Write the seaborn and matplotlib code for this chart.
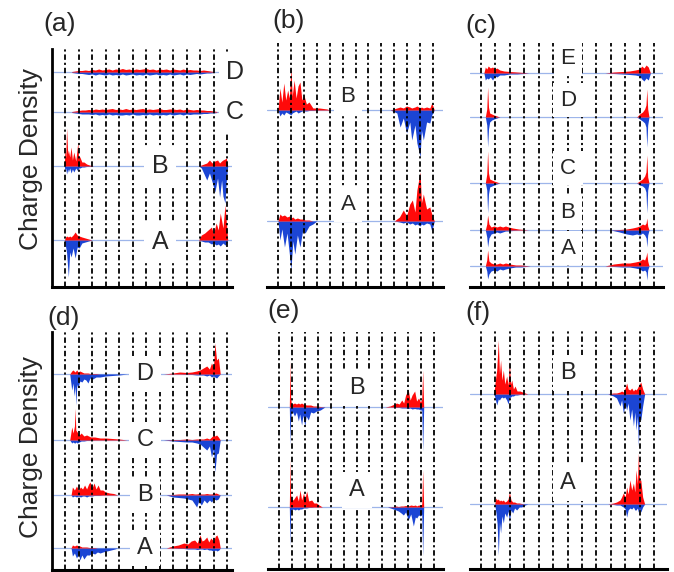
import matplotlib
matplotlib.use("Agg")
import matplotlib.pyplot as plt
import seaborn as sns

sns.set_style("white")
plt.rcParams["font.family"] = ["Liberation Sans", "DejaVu Sans"]

RED = "#ff0a0a"
BLUE = "#1b45d4"
BASE = "#9db5ea"

# ---------------- data (x in grid-line units, amplitudes) ----------------
# panel (a)
a_offsets = [47, 121, 175, 215]          # A, B, C, D
a_labels = ["A", "B", "C", "D"]
aD_x = [0.5, 0.75, 1.0, 1.25, 1.5, 1.75, 2.0, 2.25, 2.5, 2.75, 3.0, 3.25, 3.5, 3.75, 4.0, 4.25,
        4.5, 4.75, 5.0, 5.25, 5.5, 5.75, 6.0, 6.25, 6.5, 6.75, 7.0, 7.25, 7.5, 7.75, 8.0, 8.25,
        8.5, 8.75, 9.0, 9.25, 9.5, 9.75, 10.0, 10.25, 10.5, 10.75, 11.0]
aD_up = [0.5, 1, 1.5, 1.5, 2, 1.5, 2.5, 2, 3, 2, 2.5, 3, 2, 3, 2.5, 3.5, 2.5, 3, 2, 3, 2.5, 3,
         3.5, 2.5, 3, 2, 3, 2.5, 3, 2, 3, 2.5, 2, 3, 2, 2.5, 2, 2, 1.5, 2, 1.5, 1, 0.5]
aD_dn = [0.5, 1, 1.5, 1.5, 2, 2.5, 2, 3, 2, 2.5, 3, 2, 3, 2.5, 3, 2, 3, 2.5, 2, 3, 2.5, 3, 2,
         3, 2.5, 2, 3, 2.5, 3, 2, 3, 2.5, 2, 3, 2, 2.5, 2, 1.5, 2, 1.5, 1, 1, 0.5]
aC_x = [0.5, 0.75, 1.0, 1.25, 1.5, 1.75, 2.0, 2.25, 2.5, 2.75, 3.0, 3.25, 3.5, 3.75, 4.0, 4.25,
        4.5, 4.75, 5.0, 5.25, 5.5, 5.75, 6.0, 6.25, 6.5, 6.75, 7.0, 7.25, 7.5, 7.75, 8.0, 8.25,
        8.5, 8.75, 9.0, 9.25, 9.5, 9.75, 10.0, 10.25, 10.5, 10.75, 11.0, 11.25]
aC_up = [0.5, 1, 1.5, 2, 2, 2.5, 2, 3, 2.5, 3, 2.5, 3, 3.5, 2.5, 3, 2.5, 3.5, 2.5, 3, 2.5, 3,
         3.5, 2.5, 3, 2.5, 3, 3.5, 2.5, 2.5, 3, 3, 2.5, 3, 2, 3, 2.5, 2, 2.5, 2, 2, 1.5, 1.5, 1, 0.5]
aC_dn = [0.5, 1, 1.5, 2, 2, 2, 2.5, 2, 3, 2.5, 3, 2, 3, 2.5, 3, 3, 2.5, 3, 2, 3, 3, 2.5, 3, 2,
         3, 2.5, 3, 2.5, 3, 2, 3, 2.5, 2, 3, 2, 2.5, 2, 2, 2, 1.5, 1.5, 1, 1, 0.5]
aB_lx = [-0.05, 0.0, 0.05, 0.12, 0.2, 0.25, 0.35, 0.45, 0.55, 0.65, 0.8, 0.95, 1.0, 1.1, 1.25,
         1.4, 1.6, 1.8, 2.1]
aB_lup = [0, 20, 8, 38, 12, 16, 9, 19, 6, 14, 5, 24, 10, 9, 4, 4, 2, 1, 0]
aB_ldn = [0, 5, 2, 8, 3, 6, 2, 7, 3, 6, 2, 5, 2, 2, 1, 1, 0.5, 0.5, 0]
aB_rx = [9.9, 10.1, 10.3, 10.5, 10.7, 10.9, 11.1, 11.3, 11.45, 11.6, 11.7, 11.85, 11.95, 12.05]
aB_rup = [0, 1, 2, 3, 6, 3, 5, 6, 3, 5, 6, 7, 8, 0]
aB_rdn = [0, 2, 8, 14, 7, 16, 26, 12, 31, 14, 30, 37, 15, 0]
aA_lx = [-0.05, 0.05, 0.12, 0.25, 0.35, 0.45, 0.6, 0.75, 0.9, 1.05, 1.25, 1.5, 1.75, 2.0]
aA_lup = [0, 3, 4, 3, 4, 3, 5, 8, 5, 4, 3, 2, 1, 0]
aA_ldn = [0, 7, 13, 37, 12, 17, 8, 18, 7, 8, 3, 2, 1, 0]
aA_rx = [9.9, 10.1, 10.35, 10.6, 10.85, 11.0, 11.2, 11.35, 11.5, 11.7, 11.85, 11.95, 12.05]
aA_rup = [0, 5, 7, 10, 13, 6, 17, 10, 27, 12, 35, 18, 0]
aA_rdn = [0, 1, 2, 2, 4, 3, 5, 4, 6, 3, 5, 4, 0]

# panel (b)
b_offsets = [66, 177]                    # A, B
b_labels = ["A", "B"]
bB_lx = [0.0, 0.15, 0.3, 0.45, 0.6, 0.75, 0.88, 1.0, 1.1, 1.25, 1.4, 1.55, 1.7, 1.85, 2.0, 2.2,
         2.4, 2.7, 3.2, 3.8, 4.0]
bB_lup = [0, 22, 8, 27, 10, 20, 12, 43, 14, 30, 12, 24, 28, 10, 15, 6, 8, 2, 2, 1, 0]
bB_ldn = [0, 6, 3, 5, 2, 3, 4, 5, 3, 2, 1, 3, 2, 1, 1, 1, 0.5, 0.5, 0, 0, 0]
bB_rx = [8.7, 9.2, 9.45, 9.7, 9.95, 10.2, 10.35, 10.6, 10.75, 11.0, 11.1, 11.25, 11.5, 11.75,
         11.9, 12.1]
bB_rup = [0, 2, 3, 2, 4, 3, 2, 3, 4, 2, 3, 2, 3, 2, 7, 0]
bB_rdn = [0, 3, 17, 8, 23, 12, 30, 15, 33, 47, 20, 30, 12, 13, 5, 0]
bA_lx = [0.0, 0.15, 0.3, 0.5, 0.7, 0.88, 1.0, 1.15, 1.3, 1.5, 1.7, 1.9, 2.1, 2.4, 2.7, 3.0]
bA_lup = [0, 7, 5, 6, 4, 5, 3, 4, 2, 3, 2, 2, 1, 1, 0, 0]
bA_ldn = [0, 19, 8, 26, 12, 33, 49, 20, 33, 14, 26, 10, 12, 5, 3, 0]
bA_rx = [9.0, 9.4, 9.7, 9.95, 10.2, 10.4, 10.6, 10.75, 11.0, 11.1, 11.25, 11.5, 11.75, 11.9, 12.1]
bA_rup = [0, 4, 11, 5, 17, 21, 9, 31, 49, 18, 27, 12, 14, 7, 0]
bA_rdn = [0, 1, 2, 1, 3, 2, 4, 3, 5, 3, 4, 2, 3, 10, 0]

# panel (c)
c_offsets = [21, 57, 104, 170, 214]      # A, B, C, D, E
c_labels = ["A", "B", "C", "D", "E"]
cE_lx = [0.2, 0.3, 0.4, 0.5, 0.65, 0.8, 0.95, 1.1, 1.3, 1.6, 2.0, 2.5, 3.0, 3.3]
cE_lup = [0, 6, 4, 7, 5, 6, 4, 5, 3, 2, 1.5, 1, 0.5, 0]
cE_ldn = [0, 7, 5, 6, 4, 7, 3, 4, 2, 2, 1, 1, 0.5, 0]
cE_rx = [8.6, 9.2, 9.8, 10.3, 10.7, 11.0, 11.15, 11.3, 11.45, 11.6, 11.75]
cE_rup = [0, 1, 1.5, 2, 3, 4, 7, 5, 8, 6, 0]
cE_rdn = [0, 0.5, 1, 1.5, 2, 3, 6, 8, 5, 7, 0]
cD_lx = [0.3, 0.4, 0.46, 0.52, 0.6, 0.75, 0.9, 1.1, 1.3]
cD_lup = [0, 8, 30, 10, 4, 3, 2, 1, 0]
cD_ldn = [0, 8, 30, 12, 5, 3, 2, 1, 0]
cD_rx = [10.8, 11.0, 11.2, 11.35, 11.44, 11.5, 11.56, 11.65]
cD_rup = [0, 3, 5, 8, 12, 28, 8, 0]
cD_rdn = [0, 2, 4, 6, 10, 30, 8, 0]
cC_lx = [0.3, 0.4, 0.46, 0.52, 0.6, 0.75, 0.9, 1.1, 1.3]
cC_lup = [0, 9, 32, 10, 4, 3, 2, 1, 0]
cC_ldn = [0, 7, 30, 11, 4, 3, 2, 1, 0]
cC_rx = [10.8, 11.0, 11.2, 11.35, 11.44, 11.5, 11.56, 11.65]
cC_rup = [0, 2, 4, 7, 11, 28, 6, 0]
cC_rdn = [0, 2, 3, 5, 9, 30, 7, 0]
cB_lx = [0.3, 0.4, 0.46, 0.55, 0.7, 0.9, 1.1, 1.3, 1.5, 1.7, 1.9, 2.2, 2.6, 3.0, 3.3]
cB_lup = [0, 6, 15, 6, 3, 4, 3, 4, 3, 4, 3, 2, 1, 0.5, 0]
cB_ldn = [0, 7, 17, 8, 4, 3, 2, 3, 2, 1, 1, 0.5, 0, 0, 0]
cB_rx = [9.0, 9.6, 10.1, 10.5, 10.8, 11.0, 11.2, 11.35, 11.45, 11.5, 11.56, 11.65]
cB_rup = [0, 0.5, 1, 2, 3, 4, 6, 5, 7, 12, 4, 0]
cB_rdn = [0, 2, 4, 5, 4, 5, 3, 5, 8, 17, 5, 0]
cA_lx = [0.3, 0.4, 0.46, 0.55, 0.7, 0.9, 1.1, 1.3, 1.5, 1.7, 2.0, 2.4, 2.8, 3.1, 3.4]
cA_lup = [0, 6, 16, 5, 3, 2, 2, 3, 2, 3, 2, 1, 1, 0.5, 0]
cA_ldn = [0, 5, 13, 8, 5, 4, 5, 3, 4, 3, 2, 1, 1, 0.5, 0]
cA_rx = [8.6, 9.2, 9.8, 10.3, 10.7, 11.0, 11.2, 11.35, 11.45, 11.5, 11.56, 11.65]
cA_rup = [0, 2, 3, 3, 4, 5, 7, 6, 10, 14, 5, 0]
cA_rdn = [0, 0.5, 1, 1, 2, 3, 5, 4, 6, 14, 4, 0]

# panel (d)
d_offsets = [22, 75, 130, 196]           # A, B, C, D
d_labels = ["A", "B", "C", "D"]
dD_lx = [0.35, 0.5, 0.6, 0.67, 0.75, 0.8, 0.88, 0.95, 1.1, 1.25, 1.4, 1.55, 1.7, 1.85, 2.05,
         2.3, 2.6, 3.0, 3.5, 4.0, 4.6]
dD_lup = [0, 3, 4, 3, 2, 3, 4, 2, 3, 2, 1, 1, 1, 0.5, 0.5, 0.5, 0, 0, 0, 0, 0]
dD_ldn = [0, 16, 9, 22, 12, 31, 10, 14, 7, 8, 5, 6, 9, 4, 5, 3, 3, 2, 1.5, 1, 0]
dD_rx = [7.3, 8.0, 8.5, 9.0, 9.4, 9.75, 10.0, 10.25, 10.5, 10.7, 10.85, 11.0, 11.1, 11.23,
         11.36, 11.5]
dD_rup = [0, 1, 2, 1.5, 2, 3, 4, 6, 8, 5, 11, 7, 31, 14, 16, 0]
dD_rdn = [0, 0, 0, 0.5, 0.5, 1, 1, 1, 2, 1, 3, 2, 3, 4, 2, 0]
dC_lx = [0.35, 0.5, 0.6, 0.7, 0.75, 0.8, 0.9, 1.05, 1.2, 1.4, 1.6, 1.9, 2.2, 2.6, 3.0, 3.5,
         4.0, 4.6]
dC_lup = [0, 13, 7, 14, 32, 10, 8, 5, 7, 4, 5, 3, 3, 2, 2, 1.5, 1, 0]
dC_ldn = [0, 3, 2, 3, 3, 2, 3, 2, 1, 1, 0.5, 0.5, 0, 0, 0, 0, 0, 0]
dC_rx = [7.3, 8.0, 8.5, 9.0, 9.4, 9.75, 10.0, 10.25, 10.5, 10.7, 10.85, 11.0, 11.1, 11.23,
         11.36, 11.5]
dC_rup = [0, 0.5, 0.5, 1, 0.5, 1, 1, 1, 2, 1, 3, 5, 4, 5, 3, 0]
dC_rdn = [0, 1, 1.5, 2, 2, 3, 4, 7, 10, 6, 17, 9, 32, 14, 13, 0]
dB_lx = [0.45, 0.55, 0.7, 0.85, 1.0, 1.15, 1.3, 1.45, 1.6, 1.75, 1.85, 2.0, 2.15, 2.3, 2.45,
         2.6, 2.8, 3.0, 3.3, 3.6, 3.9]
dB_lup = [0, 8, 5, 9, 5, 8, 6, 10, 6, 11, 13, 7, 12, 6, 10, 5, 5, 3, 2, 1.5, 0]
dB_ldn = [0, 2, 1, 2, 1, 2, 1, 1, 2, 1, 1, 1, 0.5, 0.5, 0.5, 0.5, 0, 0, 0, 0, 0]
dB_rx = [7.5, 8.0, 8.4, 8.8, 9.1, 9.4, 9.6, 9.75, 9.9, 10.1, 10.3, 10.5, 10.7, 10.85, 11.0,
         11.2, 11.35, 11.5]
dB_rup = [0, 0.5, 1, 1, 1, 1.5, 1, 1, 1.5, 1, 1, 1.5, 1, 1, 1.5, 2, 1, 0]
dB_rdn = [0, 2, 2.5, 3, 4, 5, 9, 12, 6, 10, 5, 8, 5, 7, 4, 5, 4, 0]
dA_lx = [0.45, 0.55, 0.7, 0.85, 1.0, 1.1, 1.25, 1.4, 1.6, 1.8, 2.0, 2.2, 2.4, 2.6, 2.8, 3.1,
         3.4, 3.7, 3.9]
dA_lup = [0, 3, 2, 3, 2, 2, 1, 1, 1, 0.5, 0.5, 0.5, 0, 0, 0, 0, 0, 0, 0]
dA_ldn = [0, 8, 5, 10, 6, 12, 7, 11, 7, 7, 5, 6, 4, 5, 4, 3, 2, 1, 0]
dA_rx = [7.5, 8.0, 8.4, 8.8, 9.1, 9.35, 9.6, 9.8, 10.0, 10.15, 10.3, 10.5, 10.65, 10.8, 11.0,
         11.15, 11.25, 11.4, 11.5]
dA_rup = [0, 2, 3, 5, 4, 7, 8, 5, 13, 7, 8, 11, 6, 10, 7, 12, 13, 8, 0]
dA_rdn = [0, 0, 0.5, 0.5, 1, 1, 1, 1.5, 1, 1, 1.5, 1, 2, 2, 3, 2, 3, 2, 0]

# panel (e)
e_offsets = [62, 162]                    # A, B
e_labels = ["A", "B"]
eB_lx = [0.8, 0.85, 0.9, 0.95, 1.05, 1.2, 1.35, 1.5, 1.6, 1.75, 1.85, 2.0, 2.1, 2.27, 2.45,
         2.66, 2.9, 3.2, 3.55]
eB_lup = [0, 46, 10, 4, 3, 4, 3, 4, 3, 4, 3, 3, 2, 2, 2, 1, 1, 0.5, 0]
eB_ldn = [0, 38, 12, 6, 5, 9, 5, 14, 7, 18, 8, 19, 9, 13, 5, 6, 4, 3, 0]
eB_rx = [8.2, 8.6, 9.1, 9.3, 9.5, 9.65, 9.8, 10.0, 10.15, 10.3, 10.5, 10.65, 10.8, 10.95,
         11.05, 11.12, 11.2]
eB_rup = [0, 1, 4, 3, 7, 4, 12, 17, 7, 12, 16, 6, 9, 5, 8, 37, 0]
eB_rdn = [0, 0, 0.5, 0.5, 1, 1, 1, 1.5, 1, 2, 1.5, 2, 2, 3, 3, 44, 0]
eA_lx = [0.8, 0.85, 0.9, 0.95, 1.1, 1.25, 1.37, 1.5, 1.63, 1.75, 1.9, 2.0, 2.14, 2.3, 2.53,
         2.7, 2.9, 3.1, 3.35]
eA_lup = [0, 48, 12, 8, 7, 10, 12, 6, 17, 7, 14, 8, 16, 6, 7, 4, 4, 2, 0]
eA_ldn = [0, 39, 8, 3, 2, 3, 2, 3, 2, 2, 1, 1, 1, 0.5, 0.5, 0, 0, 0, 0]
eA_rx = [8.4, 8.85, 9.05, 9.24, 9.45, 9.63, 9.8, 10.0, 10.2, 10.4, 10.55, 10.66, 10.8, 10.95,
         11.05, 11.12, 11.2]
eA_rup = [0, 0.5, 1, 0.5, 1, 1, 1.5, 1, 2, 1.5, 2, 1, 2, 1.5, 3, 37, 0]
eA_rdn = [0, 2, 3, 4, 6, 8, 5, 13, 7, 19, 10, 11, 8, 9, 7, 49, 0]

# panel (f)
f_offsets = [65, 175]                    # A, B
f_labels = ["A", "B"]
fB_lx = [0.9, 0.97, 1.09, 1.2, 1.28, 1.36, 1.45, 1.55, 1.65, 1.78, 1.88, 1.97, 2.05, 2.13,
         2.25, 2.36, 2.5, 2.7, 3.05, 3.25]
fB_lup = [0, 11, 24, 54, 20, 34, 14, 24, 10, 18, 9, 33, 10, 14, 5, 8, 3, 3, 1, 0]
fB_ldn = [0, 4, 11, 5, 6, 4, 3, 4, 3, 6, 10, 4, 3, 2, 2, 1, 1, 0.5, 0, 0]
fB_rx = [8.8, 9.18, 9.4, 9.64, 9.75, 9.87, 10.0, 10.1, 10.2, 10.33, 10.45, 10.57, 10.67,
         10.75, 10.85, 10.91, 11.0, 11.08, 11.21, 11.35]
fB_rup = [0, 1, 1, 2, 3, 2, 6, 11, 5, 4, 6, 3, 5, 4, 6, 8, 10, 12, 5, 0]
fB_rdn = [0, 2, 4, 12, 6, 19, 10, 16, 9, 26, 15, 32, 18, 36, 22, 52, 24, 26, 12, 0]
fA_lx = [0.95, 1.04, 1.12, 1.2, 1.28, 1.36, 1.45, 1.55, 1.65, 1.78, 1.88, 1.97, 2.08, 2.2,
         2.33, 2.47, 2.65, 2.82, 3.05, 3.25]
fA_lup = [0, 6, 4, 5, 3, 4, 3, 4, 2, 3, 5, 12, 4, 2, 2, 1, 1, 0.5, 0, 0]
fA_ldn = [0, 9, 20, 51, 18, 29, 12, 19, 9, 13, 7, 18, 6, 9, 4, 6, 3, 3, 1, 0]
fA_rx = [8.8, 9.18, 9.4, 9.64, 9.75, 9.87, 10.0, 10.1, 10.2, 10.33, 10.45, 10.57, 10.67,
         10.75, 10.85, 10.91, 11.0, 11.08, 11.21, 11.35]
fA_rup = [0, 1, 2, 4, 7, 11, 7, 17, 10, 24, 14, 21, 12, 34, 20, 51, 24, 24, 7, 0]
fA_rdn = [0, 0.5, 1, 1, 2, 3, 5, 13, 6, 4, 5, 3, 6, 6, 4, 8, 5, 8, 3, 0]

panel_titles = ["(a)", "(b)", "(c)", "(d)", "(e)", "(f)"]
grid_lines = list(range(13))
ylabel_text = "Charge Density"

# ---------------- layout ----------------
W, H = 674, 572
fig = plt.figure(figsize=(W / 100, H / 100), dpi=100)


def fx(px):
    return px / W


def fy(py):
    return 1 - py / H


def make_axes(L, T, R, B, x0, dx, left_spine):
    ax = fig.add_axes([L / W, 1 - B / H, (R - L) / W, (B - T) / H])
    ax.set_xlim((L - x0) / dx, (R - x0) / dx)
    ax.set_ylim(0, B - T)
    ax.set_xticks(grid_lines)
    ax.set_yticks([])
    ax.tick_params(length=0, labelbottom=False, labelleft=False)
    ax.grid(axis="x", color="black", linestyle=(0, (3, 1.6, 1.2, 1.6)), linewidth=1.3)
    ax.grid(axis="y", visible=False)
    ax.set_axisbelow(False)
    for s in ["top", "right"]:
        ax.spines[s].set_visible(False)
    ax.spines["left"].set_visible(left_spine)
    ax.spines["left"].set_linewidth(2.0)
    ax.spines["bottom"].set_linewidth(2.2)
    ax.spines["left"].set_color("black")
    ax.spines["bottom"].set_color("black")
    return ax


def draw(ax, off, x, up, dn):
    ax.fill_between(x, off, [off + v for v in up], color=RED, linewidth=0, zorder=1.2)
    ax.fill_between(x, off, [off - v for v in dn], color=BLUE, linewidth=0, zorder=1.1)


def baseline(ax, off):
    ax.axhline(off, color=BASE, linewidth=0.9, zorder=1.0)


def letter(txt, xp, yp, size):
    fig.text(fx(xp), fy(yp), txt, ha="center", va="center", fontsize=size, zorder=5,
             bbox=dict(facecolor="white", edgecolor="none", boxstyle="square,pad=0.3"))


# (a)
ax = make_axes(52, 49, 232, 287, 65, 13.5, True)
for off in a_offsets:
    baseline(ax, off)
draw(ax, a_offsets[3], aD_x, aD_up, aD_dn)
draw(ax, a_offsets[2], aC_x, aC_up, aC_dn)
draw(ax, a_offsets[1], aB_lx, aB_lup, aB_ldn)
draw(ax, a_offsets[1], aB_rx, aB_rup, aB_rdn)
draw(ax, a_offsets[0], aA_lx, aA_lup, aA_ldn)
draw(ax, a_offsets[0], aA_rx, aA_rup, aA_rdn)
letter(a_labels[3], 235, 72, 18)
letter(a_labels[2], 235, 112, 18)
letter(a_labels[1], 160, 166, 18)
letter(a_labels[0], 160, 242, 18)

# (b)
ax = make_axes(267, 43, 443, 287, 278, 12.92, False)
for off in b_offsets:
    baseline(ax, off)
draw(ax, b_offsets[1], bB_lx, bB_lup, bB_ldn)
draw(ax, b_offsets[1], bB_rx, bB_rup, bB_rdn)
draw(ax, b_offsets[0], bA_lx, bA_lup, bA_ldn)
draw(ax, b_offsets[0], bA_rx, bA_rup, bA_rdn)
letter(b_labels[1], 348, 97, 16)
letter(b_labels[0], 348, 205, 16)

# (c)
ax = make_axes(470, 43, 663, 287, 481, 14.42, False)
for off in c_offsets:
    baseline(ax, off)
draw(ax, c_offsets[4], cE_lx, cE_lup, cE_ldn)
draw(ax, c_offsets[4], cE_rx, cE_rup, cE_rdn)
draw(ax, c_offsets[3], cD_lx, cD_lup, cD_ldn)
draw(ax, c_offsets[3], cD_rx, cD_rup, cD_rdn)
draw(ax, c_offsets[2], cC_lx, cC_lup, cC_ldn)
draw(ax, c_offsets[2], cC_rx, cC_rup, cC_rdn)
draw(ax, c_offsets[1], cB_lx, cB_lup, cB_ldn)
draw(ax, c_offsets[1], cB_rx, cB_rup, cB_rdn)
draw(ax, c_offsets[0], cA_lx, cA_lup, cA_ldn)
draw(ax, c_offsets[0], cA_rx, cA_rup, cA_rdn)
for lab, yp in zip(c_labels, [248, 213, 168, 100, 58]):
    letter(lab, 568, yp, 16)

# (d)
ax = make_axes(52, 332, 232, 570, 65, 13.5, True)
for off in d_offsets:
    baseline(ax, off)
draw(ax, d_offsets[3], dD_lx, dD_lup, dD_ldn)
draw(ax, d_offsets[3], dD_rx, dD_rup, dD_rdn)
draw(ax, d_offsets[2], dC_lx, dC_lup, dC_ldn)
draw(ax, d_offsets[2], dC_rx, dC_rup, dC_rdn)
draw(ax, d_offsets[1], dB_lx, dB_lup, dB_ldn)
draw(ax, d_offsets[1], dB_rx, dB_rup, dB_rdn)
draw(ax, d_offsets[0], dA_lx, dA_lup, dA_ldn)
draw(ax, d_offsets[0], dA_rx, dA_rup, dA_rdn)
for lab, yp in zip(d_labels, [548, 495, 440, 374]):
    letter(lab, 145, yp, 17)

# (e)
ax = make_axes(268, 332, 443, 569, 279, 12.92, False)
for off in e_offsets:
    baseline(ax, off)
draw(ax, e_offsets[1], eB_lx, eB_lup, eB_ldn)
draw(ax, e_offsets[1], eB_rx, eB_rup, eB_rdn)
draw(ax, e_offsets[0], eA_lx, eA_lup, eA_ldn)
draw(ax, e_offsets[0], eA_rx, eA_rup, eA_rdn)
letter(e_labels[1], 357, 388, 17)
letter(e_labels[0], 357, 490, 17)

# (f)
ax = make_axes(470, 330, 667, 569, 481, 14.42, False)
for off in f_offsets:
    baseline(ax, off)
draw(ax, f_offsets[1], fB_lx, fB_lup, fB_ldn)
draw(ax, f_offsets[1], fB_rx, fB_rup, fB_rdn)
draw(ax, f_offsets[0], fA_lx, fA_lup, fA_ldn)
draw(ax, f_offsets[0], fA_rx, fA_rup, fA_rdn)
letter(f_labels[1], 568, 373, 17)
letter(f_labels[0], 568, 483, 17)

# panel titles
for t, (xp, yp) in zip(panel_titles, [(43, 24), (272, 21), (465, 26), (47, 318), (267, 311), (465, 313)]):
    fig.text(fx(xp), fy(yp), t, ha="left", va="center", fontsize=19)

# y labels
fig.text(fx(31), fy(159), ylabel_text, rotation=90, ha="center", va="center", fontsize=19)
fig.text(fx(31), fy(447), ylabel_text, rotation=90, ha="center", va="center", fontsize=19)

fig.savefig("out.png", dpi=100, facecolor="white")
